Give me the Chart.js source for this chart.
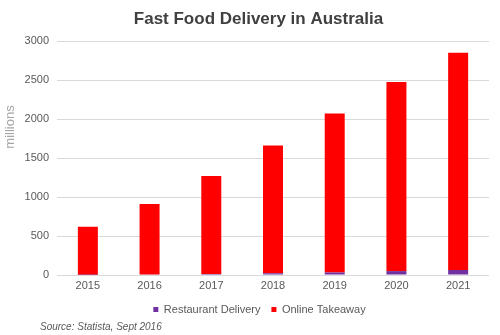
<!DOCTYPE html>
<html>
<head>
<meta charset="utf-8">
<script src="https://cdn.jsdelivr.net/npm/chart.js@4/dist/chart.umd.min.js"></script>
<style>
    html, body { margin: 0; padding: 0; background: #fff; }
    #wrap { width: 500px; height: 335px; }
</style>
</head>
<body>
<div id="wrap"><canvas id="delivery"></canvas></div>
<script>
const years = ['2015', '2016', '2017', '2018', '2019', '2020', '2021'];
const restaurantDelivery = [2, 5, 13, 22, 32, 50, 64];
const onlineTakeaway = [618, 905, 1257, 1638, 2038, 2425, 2786];
const yTicks = [0, 500, 1000, 1500, 2000, 2500, 3000];

const font = 'Liberation Sans, Arial, sans-serif';
const grey = '#595959';

// nudge title and legend a little right, draw side label and source line
const extraText = {
    id: 'extraText',
    afterLayout(chart) {
        const shift = (box, dx) => {
            if (!box) return;
            box.left += dx;
            box.right += dx;
        };
        shift(chart.titleBlock, 14);
        shift(chart.legend, 15);
    },
    afterDraw(chart) {
        const ctx = chart.ctx;
        ctx.save();
        ctx.fillStyle = '#a6a6a6';
        ctx.font = '13px ' + font;
        ctx.textAlign = 'center';
        ctx.textBaseline = 'middle';
        ctx.translate(10, 127);
        ctx.rotate(-Math.PI / 2);
        ctx.fillText('millions', 0, 0);
        ctx.restore();

        ctx.save();
        ctx.fillStyle = grey;
        ctx.font = 'italic 10px ' + font;
        ctx.textAlign = 'left';
        ctx.textBaseline = 'middle';
        ctx.fillText('Source: Statista, Sept 2016', 40, 327);
        ctx.restore();
    }
};

new Chart(document.getElementById('delivery'), {
    type: 'bar',
    data: {
        labels: years,
        datasets: [{
            label: 'Restaurant Delivery',
            data: restaurantDelivery,
            backgroundColor: '#7030a0',
            categoryPercentage: 0.36,
            barPercentage: 0.9
        }, {
            label: 'Online Takeaway',
            data: onlineTakeaway,
            backgroundColor: '#ff0000',
            categoryPercentage: 0.36,
            barPercentage: 0.9
        }]
    },
    options: {
        responsive: true,
        maintainAspectRatio: false,
        animation: false,
        layout: {
            padding: { left: 0, right: 11, top: 0, bottom: 10 }
        },
        plugins: {
            title: {
                display: true,
                text: 'Fast Food Delivery in Australia',
                color: '#404040',
                font: { family: font, size: 17, weight: 'bold' },
                padding: { top: 9, bottom: 11.6 }
            },
            legend: {
                position: 'bottom',
                labels: {
                    color: grey,
                    font: { family: font, size: 11 },
                    boxWidth: 5,
                    boxHeight: 5,
                    padding: 11
                }
            },
            tooltip: { enabled: false }
        },
        scales: {
            x: {
                stacked: true,
                grid: { display: false, drawTicks: false },
                border: { display: false },
                ticks: { color: grey, font: { family: font, size: 11 }, padding: 4 },
                afterFit(scale) { scale.height = 18; }
            },
            y: {
                stacked: true,
                min: 0,
                max: 3000,
                afterBuildTicks(scale) { scale.ticks = yTicks.map(v => ({ value: v })); },
                grid: { color: '#d9d9d9', drawTicks: false },
                border: { display: false },
                ticks: {
                    color: grey,
                    font: { family: font, size: 11 },
                    padding: 8,
                    callback: v => String(v)
                },
                afterFit(scale) { scale.width = 57; }
            }
        }
    },
    plugins: [extraText]
});
</script>
</body>
</html>
